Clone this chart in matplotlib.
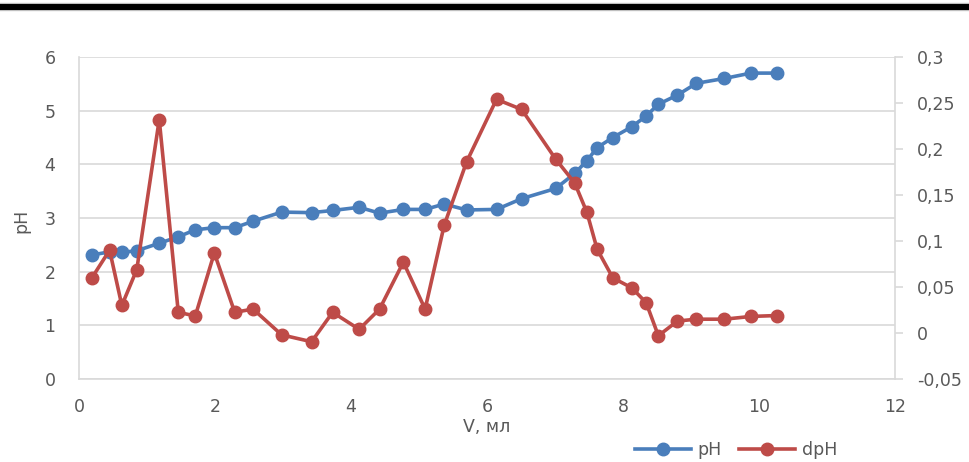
import matplotlib
matplotlib.use('Agg')
import matplotlib.pyplot as plt
from matplotlib.lines import Line2D

# Titration data
volume = [0.19, 0.45, 0.63, 0.85, 1.18, 1.46, 1.71, 1.99, 2.29, 2.56,
          2.98, 3.42, 3.73, 4.12, 4.42, 4.77, 5.09, 5.37, 5.70, 6.14,
          6.51, 7.01, 7.29, 7.47, 7.62, 7.85, 8.13, 8.34, 8.52, 8.80,
          9.08, 9.49, 9.88, 10.27]
ph = [2.31, 2.37, 2.36, 2.39, 2.53, 2.65, 2.78, 2.82, 2.82, 2.94,
      3.11, 3.10, 3.14, 3.20, 3.09, 3.16, 3.16, 3.26, 3.15, 3.16,
      3.36, 3.55, 3.83, 4.07, 4.31, 4.50, 4.70, 4.90, 5.12, 5.29,
      5.51, 5.60, 5.70, 5.70]
dph = [0.060, 0.090, 0.030, 0.069, 0.232, 0.0225, 0.0185, 0.087, 0.0225, 0.026,
       -0.002, -0.0095, 0.0225, 0.004, 0.026, 0.077, 0.026, 0.117, 0.186, 0.254,
       0.243, 0.189, 0.163, 0.131, 0.091, 0.060, 0.049, 0.033, -0.003, 0.013,
       0.015, 0.015, 0.018, 0.019]

x_ticks = [0, 2, 4, 6, 8, 10, 12]
left_ticks = [0, 1, 2, 3, 4, 5, 6]
right_ticks = [-0.05, 0, 0.05, 0.1, 0.15, 0.2, 0.25, 0.3]
right_tick_labels = ['-0,05', '0', '0,05', '0,1', '0,15', '0,2', '0,25', '0,3']

blue = '#4a7ebb'
red = '#be4b48'
text_color = '#595959'
grid_color = '#d9d9d9'

plt.rcParams['font.family'] = ['DejaVu Sans']

fig = plt.figure(figsize=(9.7, 4.62), dpi=100)
ax = fig.add_axes([79 / 970, 1 - 379 / 462, (895 - 79) / 970, (379 - 57) / 462])
ax2 = ax.twinx()

ax.plot(volume, ph, color=blue, lw=2.6, marker='o', ms=9, label='pH')
ax2.plot(volume, dph, color=red, lw=2.6, marker='o', ms=9, label='dpH')

ax.set_xlim(0, 12)
ax.set_ylim(0, 6)
ax2.set_ylim(-0.05, 0.3)
ax.set_xticks(x_ticks)
ax.set_yticks(left_ticks)
ax2.set_yticks(right_ticks)
ax2.set_yticklabels(right_tick_labels)

ax.grid(axis='y', color=grid_color, lw=1.2)
ax.set_axisbelow(True)

for a in (ax, ax2):
    for s in a.spines.values():
        s.set_visible(False)
ax.spines['left'].set_visible(True)
ax.spines['bottom'].set_visible(True)
ax2.spines['right'].set_visible(True)
for s in (ax.spines['left'], ax.spines['bottom'], ax2.spines['right']):
    s.set_color(grid_color)
    s.set_linewidth(1.2)

ax.tick_params(axis='both', length=0, labelsize=12.5, labelcolor=text_color, pad=14)
ax.tick_params(axis='y', pad=17)
ax2.tick_params(axis='y', length=6, color=grid_color, width=1.2, labelsize=12.5,
                labelcolor=text_color, pad=10)

ax.set_xlabel('V, мл', fontsize=12.5, color=text_color, labelpad=1)
ax.set_ylabel('pH', fontsize=12.5, color=text_color)
ax.yaxis.set_label_coords(-0.060, 0.49)

handles = [Line2D([], [], color=blue, lw=2.6, marker='o', ms=9),
           Line2D([], [], color=red, lw=2.6, marker='o', ms=9)]
fig.legend(handles, ['pH', 'dpH'], loc='center', bbox_to_anchor=(736 / 970, 1 - 450 / 462),
           ncol=2, frameon=False, fontsize=12.5, handlelength=3.2, columnspacing=1.0,
           handletextpad=0.4, labelcolor=text_color)

# heavy rule across the top of the picture
fig.add_artist(Line2D([0, 1], [1 - 6.5 / 462] * 2, transform=fig.transFigure,
                      color='#bfbfbf', lw=6))
fig.add_artist(Line2D([0, 1], [1 - 6.5 / 462] * 2, transform=fig.transFigure,
                      color='black', lw=4.3))

fig.savefig('out.png', dpi=100)
